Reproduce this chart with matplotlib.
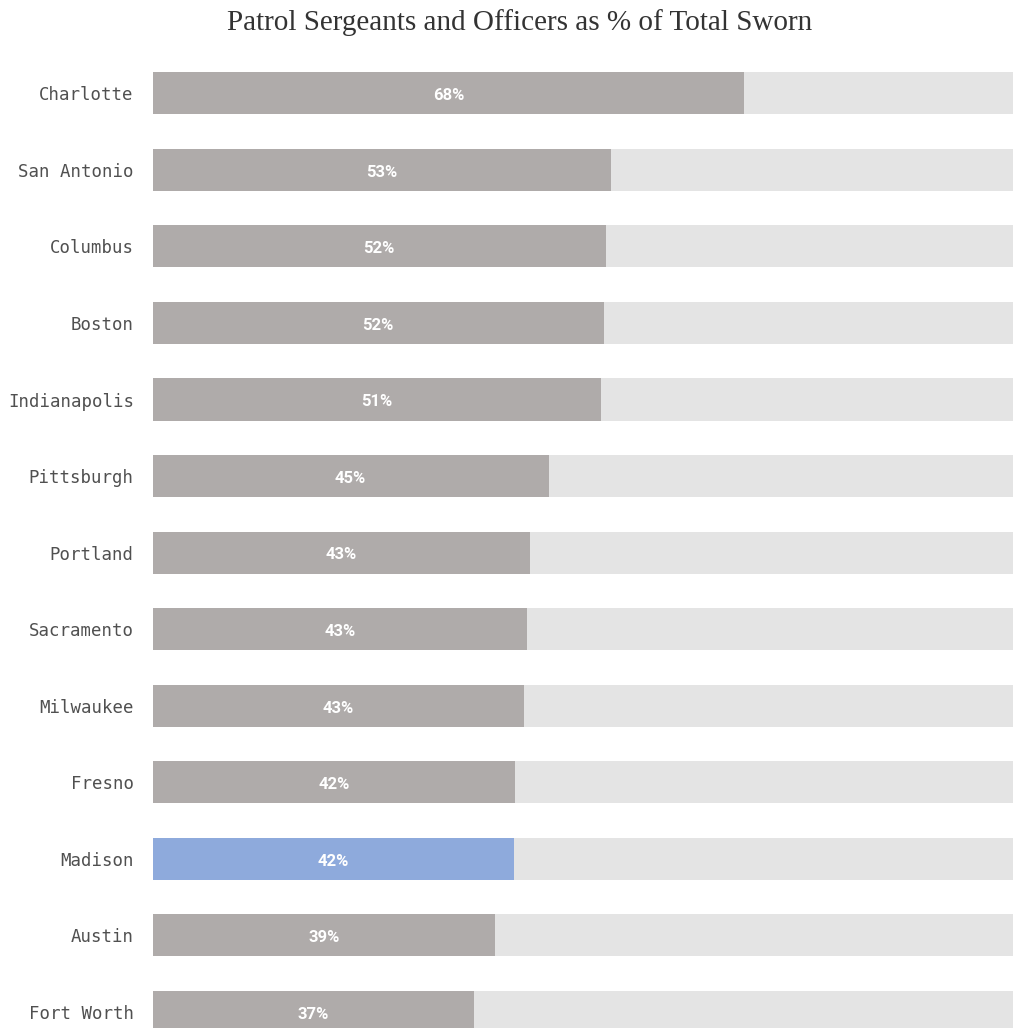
import matplotlib
matplotlib.use("Agg")
import matplotlib.pyplot as plt

# 各城市巡逻警员占宣誓警员比例
cities = ["Charlotte", "San Antonio", "Columbus", "Boston", "Indianapolis",
          "Pittsburgh", "Portland", "Sacramento", "Milwaukee", "Fresno",
          "Madison", "Austin", "Fort Worth"]
shares = [0.679, 0.526, 0.520, 0.518, 0.514, 0.4545, 0.433, 0.430, 0.426,
          0.416, 0.415, 0.393, 0.369]
highlight = "Madison"

GRAY = "#afabaa"
BLUE = "#8eaadc"
TRACK = "#e4e4e4"

fig = plt.figure(figsize=(10.13, 10.28), dpi=100)
ax = fig.add_axes([152.5 / 1013, 0, 1 - 152.5 / 1013, 1])

ypos = list(range(len(cities)))
ax.barh(ypos, [1.0] * len(cities), height=0.55, color=TRACK, zorder=1)
colors = [BLUE if c == highlight else GRAY for c in cities]
ax.barh(ypos, shares, height=0.55, color=colors, zorder=2)

for y, v in zip(ypos, shares):
    ax.text(v / 2, y + 0.03, f"{v:.0%}", ha="center", va="center",
            color="white", fontsize=12, fontweight="bold",
            family=["Roboto", "DejaVu Sans"], zorder=3)

ax.set_xlim(0, 0.987)
ax.set_ylim(12.209, -1.219)
ax.set_yticks(ypos)
ax.set_yticklabels(cities, family=["DejaVu Sans Mono"], fontsize=12.5,
                   color="#505050")
ax.tick_params(axis="y", length=0, pad=13.5)
ax.set_xticks([])
for s in ax.spines.values():
    s.set_visible(False)

fig.text(520 / 1013, 1 - 23 / 1028, "Patrol Sergeants and Officers as % of Total Sworn",
         ha="center", va="center", fontsize=21, family=["Liberation Serif"],
         color="#333333")

fig.savefig("out.png", dpi=100)
